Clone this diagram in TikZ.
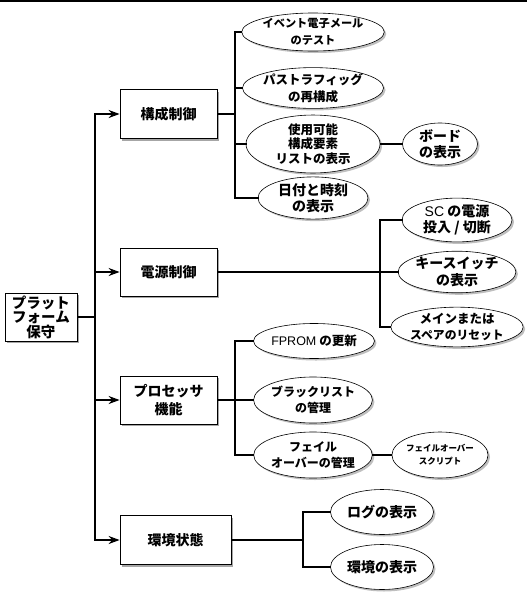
\documentclass[tikz,border=0pt]{standalone}
\usepackage{fontspec}
\setmainfont{Noto Sans CJK JP}
\newfontfamily\latinfont{Liberation Sans}
\usetikzlibrary{shapes.geometric,arrows.meta,shadows}
\tikzset{
  bx/.style={draw=black, line width=0.8pt, fill=white, rectangle, inner sep=0pt, align=center,
    font=\fontsize{14}{18}\selectfont\bfseries,
    drop shadow={shadow xshift=2pt, shadow yshift=-2pt, fill=gray!70, opacity=1}},
  el/.style={draw=black, line width=0.6pt, fill=white, ellipse, inner sep=0pt, align=center,
    font=\fontsize{12.5}{16.5}\selectfont\bfseries,
    drop shadow={shadow xshift=2pt, shadow yshift=-2pt, fill=gray!50, opacity=1}},
  big/.style={font=\fontsize{14}{16.5}\selectfont\bfseries},
  wire/.style={line width=1.6pt, line cap=rect},
  arr/.style={line width=1.6pt, -{Stealth[length=11pt,width=8pt]}}
}
\begin{document}
\begin{tikzpicture}[x=1pt,y=-1pt]
\useasboundingbox (0,0) rectangle (527,600);
\draw[line width=1.5pt] (0,0.75) -- (527,0.75);

% root
\node[bx, minimum width=72, minimum height=48, font=\fontsize{14.5}{14.5}\selectfont\bfseries] (root) at (41,317) {プラット\\フォーム\\保守};

% level 1 boxes
\node[bx, minimum width=97, minimum height=49] (kc) at (168.5,114) {構成制御};
\node[bx, minimum width=97, minimum height=48] (dg) at (168.5,272) {電源制御};
\node[bx, minimum width=97, minimum height=48] (pr) at (168.5,400) {プロセッサ\\機能};
\node[bx, minimum width=111, minimum height=49] (ks) at (175.5,540) {環境状態};

% trunk
\coordinate (tr) at (95,0);
\draw[wire] (root.east) -- (root.east -| tr);
\draw[wire] (tr |- kc) -- (tr |- ks);
\draw[arr] (tr |- kc) -- (kc.west);
\draw[arr] (tr |- dg) -- (dg.west);
\draw[arr] (tr |- pr) -- (pr.west);
\draw[arr] (tr |- ks) -- (ks.west);

% config children
\node[el, minimum width=110, minimum height=38, font=\fontsize{11.2}{16.5}\selectfont\bfseries] (e1) at (313,32) {イベント電子メール\\のテスト};
\node[el, minimum width=110, minimum height=37] (e2) at (313,88) {パストラフィッグ\\の再構成};
\node[el, minimum width=134, minimum height=44, font=\fontsize{12.5}{14.5}\selectfont\bfseries] (e3) at (313,144) {使用可能\\構成要素\\リストの表示};
\node[el, big, minimum width=75, minimum height=38] (e31) at (440,144) {ボード\\の表示};
\node[el, big, minimum width=110, minimum height=38] (e4) at (313,198) {日付と時刻\\の表示};
\coordinate (b1) at (235,0);
\draw[wire] (kc.east) -- (kc.east -| b1);
\draw[wire] (e1.west) -| (b1 |- e4) -- (e4.west);
\draw[wire] (b1 |- e2) -- (e2.west);
\draw[wire] (b1 |- e3) -- (e3.west);
\draw[wire] (e3.east) -- (e31.west);

% power children
\node[el, big, minimum width=110, minimum height=40] (p1) at (457,220) {{\latinfont\mdseries SC} の電源\\投入 / 切断};
\node[el, big, minimum width=110, minimum height=37] (p2) at (457,272) {キースイッチ\\の表示};
\node[el, minimum width=110, minimum height=39, font=\fontsize{12.5}{16.5}\selectfont\bfseries] (p3) at (457,327) {メインまたは\\{\fontsize{11.8}{16.5}\selectfont スペアのリセット}};
\coordinate (b2) at (380,0);
\draw[wire] (dg.east) -- (p2.west);
\draw[wire] (p1.west) -| (b2 |- p3) -- (p3.west);

% processor children
\node[el, minimum width=104, minimum height=35] (q1) at (314,341) {{\latinfont\mdseries FPROM} の更新};
\node[el, minimum width=102, minimum height=46, font=\fontsize{12}{16.5}\selectfont\bfseries] (q2) at (313,400) {ブラックリスト\\の管理};
\node[el, minimum width=104, minimum height=46, font=\fontsize{12}{16.5}\selectfont\bfseries] (q3) at (313,455) {フェイル\\オーバーの管理};
\node[el, minimum width=75, minimum height=46, font=\fontsize{8.5}{13}\selectfont\bfseries] (q31) at (440,455) {フェイルオーバー\\スクリプト};
\coordinate (b3) at (235,0);
\draw[wire] (pr.east) -- (pr.east -| b3);
\draw[wire] (q1.west) -| (b3 |- q3) -- (q3.west);
\draw[wire] (b3 |- q2) -- (q2.west);
\draw[wire] (q3.east) -- (q31.west);

% environment children
\node[el, big, minimum width=103, minimum height=45] (r1) at (382,512) {ログの表示};
\node[el, big, minimum width=103, minimum height=45] (r2) at (382,567) {環境の表示};
\coordinate (b4) at (303,0);
\draw[wire] (ks.east) -- (ks.east -| b4);
\draw[wire] (r1.west) -| (b4 |- r2) -- (r2.west);
\end{tikzpicture}
\end{document}
